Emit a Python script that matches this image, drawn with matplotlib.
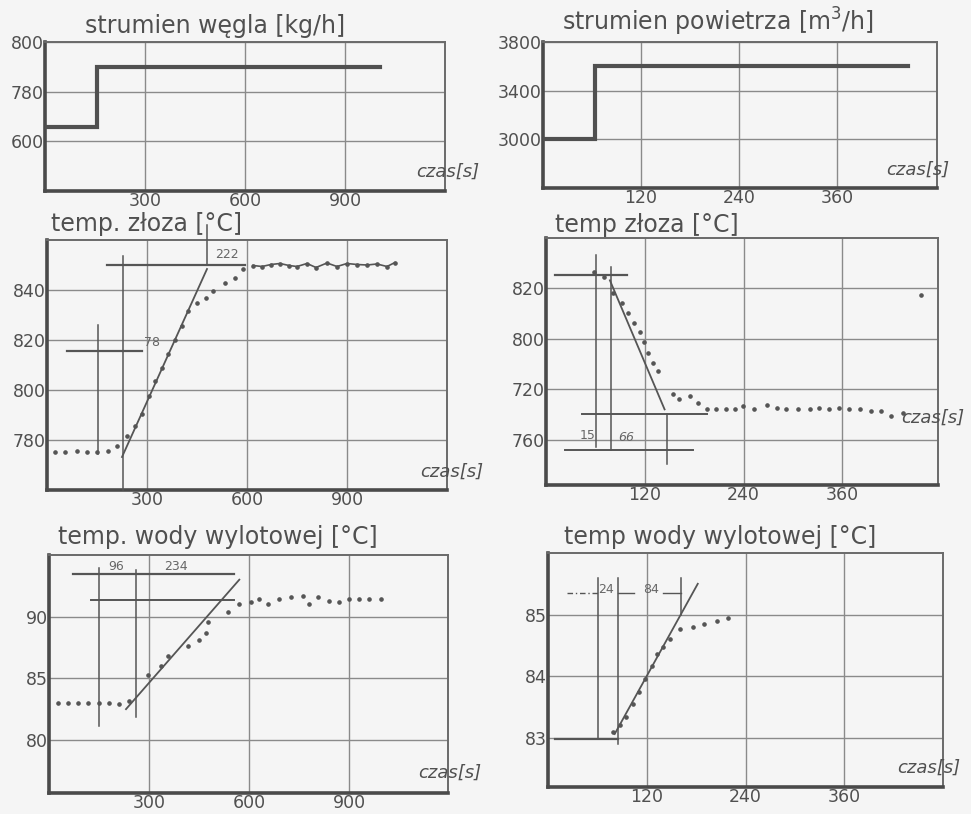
import numpy as np
import matplotlib
matplotlib.use("Agg")
import matplotlib.pyplot as plt

# --- panel data ---

# coal flow step [kg/h]
coal_t = [0, 156, 156, 1005]
coal_v = [765.6, 765.6, 790, 790]

# air flow step [m3/h]
air_t = [0, 64, 64, 446]
air_v = [3000, 3000, 3600, 3600]

# bed temperature, coal step
bed1_t = [24, 54, 90, 120, 150, 183, 210, 240, 264, 285, 306, 324, 345, 363, 384,
          405, 423, 450, 477, 498, 534, 564, 588]
bed1_v = [775.2, 775.2, 775.6, 775.2, 775.2, 775.6, 777.6, 781.6, 785.6, 790.4,
          797.6, 803.6, 809.0, 814.4, 820.0, 825.6, 831.6, 835.0, 836.8, 839.6,
          843.0, 845.0, 848.4]
bed1_plat_t = [618, 645, 672, 699, 726, 750, 780, 807, 840, 870, 900, 930, 960, 990, 1020, 1044]
bed1_plat_v = [849.8, 849.4, 850.2, 850.6, 849.8, 849.4, 850.6, 849.0, 850.8, 849.4,
               850.6, 850.2, 850.0, 850.4, 849.4, 851.0]
bed1_fit_t = [225, 480]
bed1_fit_v = [773.2, 848.4]

# bed temperature, air step
bed2_t = [58, 70, 81, 92, 99, 107, 114, 119, 124, 130, 136, 154, 161, 175, 184,
          195, 207, 219, 229, 239, 253, 268, 280, 292, 306, 320, 332, 344, 356,
          368, 381, 395, 407, 419, 433]
bed2_v = [826.5, 824.5, 818.0, 814.4, 810.4, 806.4, 802.8, 798.8, 794.4, 790.4,
          787.2, 778.0, 776.0, 777.2, 774.4, 772.0, 772.0, 772.0, 772.0, 773.5,
          772.0, 773.9, 772.4, 772.0, 772.0, 772.0, 772.4, 772.0, 772.4, 772.0,
          772.0, 771.2, 771.2, 769.2, 770.5]
bed2_stray_t = [455]
bed2_stray_v = [817.5]
bed2_fit_t = [77.6, 144]
bed2_fit_v = [823.2, 772.0]

# outlet water temperature, coal step
wat1_t = [26, 56, 86, 116, 151, 181, 211, 241, 296, 336, 356, 416, 451, 471,
          476, 536, 571, 606, 631, 656, 691, 726, 761, 781, 806, 841, 871, 901,
          931, 961, 996]
wat1_v = [83.0, 83.0, 83.0, 83.0, 83.0, 83.0, 82.9, 83.2, 85.3, 86.0, 86.8,
          87.6, 88.1, 88.7, 89.6, 90.4, 91.0, 91.2, 91.4, 91.05, 91.4, 91.6,
          91.7, 91.05, 91.6, 91.3, 91.2, 91.4, 91.4, 91.4, 91.4]
wat1_fit_t = [231, 571]
wat1_fit_v = [82.5, 93.0]

# outlet water temperature, air step
wat2_t = [79, 87, 95, 103, 111, 118, 126, 132, 140, 148, 160, 176, 190, 205, 219]
wat2_v = [83.09, 83.2, 83.33, 83.55, 83.74, 83.95, 84.17, 84.36, 84.47, 84.6,
          84.76, 84.8, 84.85, 84.9, 84.95]
wat2_fit_t = [81, 182]
wat2_fit_v = [83.06, 85.5]

long_ticks = [300, 600, 900]
short_ticks = [120, 240, 360]

INK = "#4a4a4a"
GRID = "#8a8a8a"
TXT = "#505050"
BG = "#f5f5f5"

W, H = 971, 814
fig = plt.figure(figsize=(W / 100, H / 100), dpi=100)
fig.patch.set_facecolor(BG)


def make_axes(l, r, t, b):
    ax = fig.add_axes([l / W, 1 - b / H, (r - l) / W, (b - t) / H])
    ax.set_facecolor(BG)
    for s in ["left", "bottom"]:
        ax.spines[s].set_linewidth(2.6)
        ax.spines[s].set_color(INK)
    for s in ["top", "right"]:
        ax.spines[s].set_linewidth(1.4)
        ax.spines[s].set_color("#6a6a6a")
    ax.grid(True, color=GRID, lw=1.0)
    ax.tick_params(length=0, labelsize=12, colors=TXT, pad=1)
    return ax


def finish(ax, xlim, ylim, xticks, yticks, ylabels, title, tx, ty, cz):
    ax.set_xlim(*xlim)
    ax.set_ylim(*ylim)
    ax.set_xticks(xticks)
    ax.set_xticklabels([str(v) for v in xticks], fontsize=12.5, color=TXT)
    ax.set_yticks(yticks)
    ax.set_yticklabels(ylabels, fontsize=12.5, color=TXT)
    fig.text(tx / W, 1 - ty / H, title, fontsize=17, color=TXT,
             ha="center", va="center")
    fig.text(cz[0] / W, 1 - cz[1] / H, "czas[s]", fontsize=13, color=TXT,
             ha="center", va="center", style="italic")


def thin(ax, x, y, lw=1.1, c="#555555"):
    ax.plot(x, y, color=c, lw=lw, clip_on=False, zorder=3)


def dots(ax, x, y):
    ax.plot(x, y, ls="none", marker="o", ms=2.3, color="#555555", zorder=4)


# ---- top left: coal flow
ax1 = make_axes(45, 445, 42, 191)
ax1.plot(coal_t, coal_v, color="#505050", lw=3.0, solid_joinstyle="miter", zorder=4)
finish(ax1, (0, 1200), (740, 800), long_ticks, [760, 780, 800], ["600", "780", "800"],
       "strumien węgla [kg/h]", 215, 26, (448, 172))

# ---- top right: air flow
ax2 = make_axes(543, 937, 42, 188)
ax2.plot(air_t, air_v, color="#505050", lw=3.0, solid_joinstyle="miter", zorder=4)
finish(ax2, (0, 482), (2600, 3800), short_ticks, [3000, 3400, 3800], ["3000", "3400", "3800"],
       "strumien powietrza [m$^3$/h]", 718, 22, (918, 170))

# ---- middle left: bed temperature
ax3 = make_axes(47, 447, 240, 490)
dots(ax3, bed1_t, bed1_v)
ax3.plot(bed1_plat_t, bed1_plat_v, color="#555555", lw=1.2, marker="o", ms=2.3, zorder=4)
thin(ax3, bed1_fit_t, bed1_fit_v, lw=1.3)
thin(ax3, [180, 594], [850, 850], lw=1.6)
thin(ax3, [228, 228], [853.6, 760])
thin(ax3, [480, 480], [866, 850])
thin(ax3, [60, 285], [815.6, 815.6], lw=1.6)
thin(ax3, [153, 153], [826, 774.4])
ax3.text(315, 819, "78", fontsize=9, color="#666666", ha="center", va="center")
ax3.text(540, 854, "222", fontsize=9, color="#666666", ha="center", va="center")
finish(ax3, (0, 1200), (760, 860), long_ticks, [780, 800, 820, 840], ["780", "800", "820", "840"],
       "temp. złoza [°C]", 146, 224, (452, 472))

# ---- middle right: bed temperature
ax4 = make_axes(546, 938, 238, 485)
dots(ax4, bed2_t, bed2_v)
dots(ax4, bed2_stray_t, bed2_stray_v)
thin(ax4, bed2_fit_t, bed2_fit_v, lw=1.3)
thin(ax4, [11, 98], [825.2, 825.2], lw=1.6)
thin(ax4, [60.6, 60.6], [833.2, 757.2])
thin(ax4, [79, 79], [828.4, 756])
thin(ax4, [43.6, 195], [770, 770], lw=1.4)
thin(ax4, [23, 178], [756, 756], lw=1.4)
thin(ax4, [146.7, 146.7], [770, 750.4])
ax4.text(50, 761.5, "15", fontsize=9, color="#666666", ha="center", va="center")
ax4.text(98, 761, "66", fontsize=9, color="#666666", ha="center", va="center", style="italic")
finish(ax4, (0, 476), (742, 840), short_ticks, [760, 780, 800, 820], ["760", "720", "800", "820"],
       "temp złoza [°C]", 647, 225, (933, 418))

# ---- bottom left: water temperature
ax5 = make_axes(49, 448, 555, 793)
dots(ax5, wat1_t, wat1_v)
thin(ax5, wat1_fit_t, wat1_fit_v, lw=1.3)
thin(ax5, [71, 556], [93.44, 93.44], lw=1.6)
thin(ax5, [126, 556], [91.37, 91.37], lw=1.4)
thin(ax5, [151, 151], [93.95, 81.1])
thin(ax5, [261, 261], [93.8, 81.9])
ax5.text(201, 94.05, "96", fontsize=9, color="#666666", ha="center", va="center")
ax5.text(381, 94.05, "234", fontsize=9, color="#666666", ha="center", va="center")
finish(ax5, (0, 1197), (75.7, 95), long_ticks, [80, 85, 90], ["80", "85", "90"],
       "temp. wody wylotowej [°C]", 218, 537, (450, 773))

# ---- bottom right: water temperature
ax6 = make_axes(548, 943, 553, 787)
dots(ax6, wat2_t, wat2_v)
thin(ax6, wat2_fit_t, wat2_fit_v, lw=1.3)
thin(ax6, [8.5, 85], [82.98, 82.98], lw=1.6)
thin(ax6, [60.6, 60.6], [85.6, 83])
thin(ax6, [84.5, 84.5], [85.6, 82.9])
thin(ax6, [162, 162], [85.6, 85])
ax6.plot([23, 60.6], [85.35, 85.35], color="#555555", lw=1.0, ls=(0, (4, 2, 1, 2)))
thin(ax6, [84.5, 105], [85.35, 85.35], lw=1.0)
thin(ax6, [140, 162], [85.35, 85.35], lw=1.0)
ax6.text(71, 85.4, "24", fontsize=9, color="#666666", ha="center", va="center")
ax6.text(125.7, 85.4, "84", fontsize=9, color="#666666", ha="center", va="center")
finish(ax6, (0, 480), (82.2, 86), short_ticks, [83, 84, 85], ["83", "84", "85"],
       "temp wody wylotowej [°C]", 720, 537, (929, 768))

fig.savefig("out.png", dpi=100, facecolor=BG)
